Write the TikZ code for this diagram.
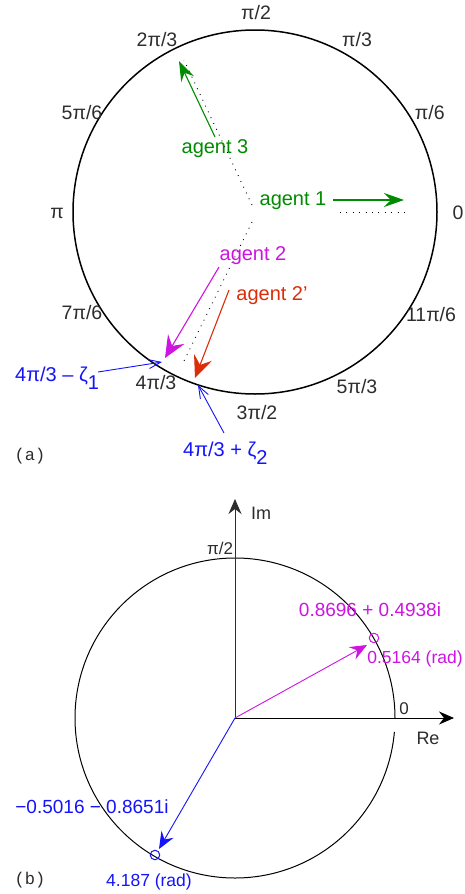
\documentclass[tikz,border=0pt]{standalone}
\usepackage{fontspec}
\setmainfont{Liberation Sans}
\newfontfamily\monofnt{Liberation Mono}
\usetikzlibrary{arrows.meta}
\definecolor{agGreen}{RGB}{0,140,0}
\definecolor{agMag}{RGB}{205,20,225}
\definecolor{agRed}{RGB}{220,45,10}
\definecolor{agBlue}{RGB}{20,20,250}
\definecolor{lblGray}{RGB}{45,45,45}
\tikzset{
  angl/.style={text=lblGray, inner sep=0pt, font=\fontsize{19.5}{22}\selectfont},
  agtxt/.style={inner sep=0pt, font=\fontsize{20}{23}\selectfont},
  btxt/.style={inner sep=0pt, font=\fontsize{19}{22}\selectfont},
  radtxt/.style={inner sep=0pt, font=\fontsize{17.5}{20}\selectfont},
  axtxt/.style={inner sep=0pt, text=lblGray, font=\fontsize{18}{21}\selectfont},
  tag/.style={inner sep=0pt, text=lblGray, font=\monofnt\fontsize{17}{19}\selectfont},
  agarrow/.style={line width=1.1pt, -{Stealth[length=20pt,width=14pt,inset=7pt]}},
  bigarrow/.style={line width=1.1pt, -{Stealth[length=22pt,width=19pt,inset=8pt]}},
  thinarrow/.style={line width=0.9pt, -{Straight Barb[length=12pt,width=9pt,line width=0.9pt]}},
  dotline/.style={line width=0.9pt, dash pattern=on 0.9pt off 5.5pt},
  axarrow/.style={line width=1pt, -{Stealth[length=15pt,width=13pt,inset=5pt]}},
  vecarrow/.style={line width=0.9pt, -{Stealth[length=17pt,width=14pt,inset=6pt]}},
}
\begin{document}
\begin{tikzpicture}[x=1pt,y=-1pt]
\useasboundingbox[fill=white] (0,0) rectangle (464,894);
% ---------- panel (a) ----------
\coordinate (ca) at (255,212);
\draw[line width=1.5pt] (ca) circle (182pt);
\node[angl] (l0) at (458,213) {0};
\node[angl] (l1) at (428,113) {$\,$π/6};
\node[angl] (l2) at (357,40) {π/3};
\node[angl] (l3) at (256,13) {π/2};
\node[angl] (l4) at (157,40) {2π/3};
\node[angl] (l5) at (82,113) {5π/6};
\node[angl] (l6) at (57,213) {π};
\node[angl] (l7) at (82,313) {7π/6};
\node[angl] (l8) at (156,383) {4π/3};
\node[angl] (l9) at (257,413) {3π/2};
\node[angl] (l10) at (357,387) {5π/3};
\node[angl] (l11) at (431,315) {11π/6};
% dotted reference lines
\coordinate (d1a) at (340,212);
\coordinate (d1b) at (406,212);
\coordinate (d3a) at (252,205);
\coordinate (d3b) at (184,60);
\coordinate (d2a) at (252,222);
\coordinate (d2b) at (182,365);
\draw[dotline] (d1a) -- (d1b);
\draw[dotline] (d3a) -- (d3b);
\draw[dotline] (d2a) -- (d2b);
% agents
\node[agtxt, text=agGreen] (ag1) at (293,201) {agent 1};
\coordinate (ag1s) at (333,200);
\coordinate (ag1t) at (404,200);
\draw[agarrow, agGreen] (ag1s) -- (ag1t);
\node[agtxt, text=agGreen] (ag3) at (215,149) {agent 3};
\coordinate (ag3s) at (215,137);
\coordinate (ag3t) at (179,61);
\draw[agarrow, agGreen] (ag3s) -- (ag3t);
\node[agtxt, text=agMag] (ag2) at (253,256) {agent 2};
\coordinate (ag2s) at (219,267);
\coordinate (ag2t) at (165,358);
\draw[bigarrow, agMag] (ag2s) -- (ag2t);
\node[agtxt, text=agRed] (ag2p) at (272,296) {agent 2’};
\coordinate (ag2ps) at (229,290);
\coordinate (ag2pt) at (195,378);
\draw[bigarrow, agRed] (ag2ps) -- (ag2pt);
% zeta labels
\node[agtxt, text=agBlue, anchor=base west] (z1) at (15,381) {4π/3 – ζ\raisebox{-0.4em}{1}};
\coordinate (z1s) at (98,372);
\coordinate (z1t) at (162,362);
\draw[thinarrow, agBlue] (z1s) -- (z1t);
\node[agtxt, text=agBlue, anchor=base west] (z2) at (183,456) {4π/3 + ζ\raisebox{-0.4em}{2}};
\coordinate (z2s) at (224,433);
\coordinate (z2t) at (198,385);
\draw[thinarrow, agBlue] (z2s) -- (z2t);
\node[tag] (ta) at (30,456) {(a)};
% ---------- panel (b) ----------
\coordinate (cb) at (235,718);
\draw[line width=1pt] (cb) ++(0:160pt) arc[start angle=0, end angle=355, radius=160pt];
\coordinate (imt) at (235,499);
\coordinate (ret) at (454,718);
\draw[axarrow, lblGray] (cb) -- (imt);
\draw[axarrow, black] (cb) -- (ret);
\node[axtxt] (im) at (261,513) {Im};
\node[axtxt] (re) at (428,738) {Re};
\node[axtxt, font=\fontsize{17}{20}\selectfont] (p2) at (220,548) {π/2};
\node[axtxt, font=\fontsize{17}{20}\selectfont] (z0) at (404,709) {0};
% magenta vector
\node[draw=agMag, circle, line width=1pt, minimum size=9.5pt, inner sep=0pt] (pm) at (374,638) {};
\coordinate (pmt) at (367,645);
\draw[vecarrow, agMag] (cb) -- (pmt);
\node[btxt, text=agMag] (cm) at (370,610) {0.8696 + 0.4938i};
\node[radtxt, text=agMag] (rm) at (415,659) {0.5164 (rad)};
% blue vector
\node[draw=agBlue, circle, line width=1pt, minimum size=9.5pt, inner sep=0pt] (pb) at (155,855) {};
\coordinate (pbt) at (159,849);
\draw[vecarrow, agBlue] (cb) -- (pbt);
\node[btxt, text=agBlue] (cbl) at (92,807) {−0.5016 − 0.8651i};
\node[radtxt, text=agBlue] (rb) at (149,882) {4.187 (rad)};
\node[tag] (tb) at (30,880) {(b)};
\end{tikzpicture}
\end{document}
